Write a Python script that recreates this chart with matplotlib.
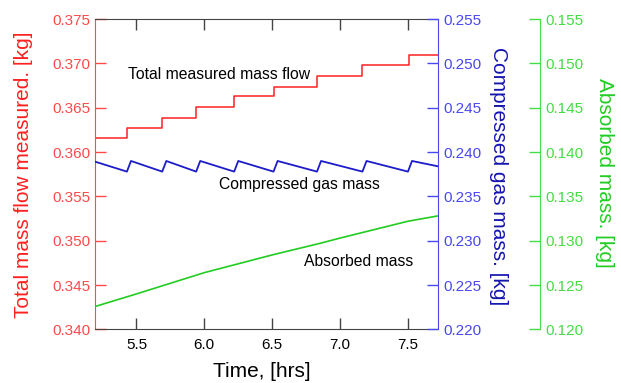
import matplotlib.pyplot as plt

plt.rcParams["font.family"] = ["Liberation Sans", "DejaVu Sans"]

# Total measured mass flow (step curve), red axis
flow_time = [5.2, 5.43, 5.69, 5.94, 6.22, 6.51, 6.83, 7.165, 7.51, 7.72]
flow_mass = [0.3616, 0.3627, 0.3639, 0.3651, 0.3663, 0.3674, 0.3686, 0.3698, 0.3710, 0.3710]

# Compressed gas mass (sawtooth), blue axis
gas_time = [5.2, 5.43, 5.46, 5.69, 5.72, 5.94, 5.97, 6.22, 6.25, 6.51, 6.54,
            6.83, 6.86, 7.165, 7.195, 7.50, 7.53, 7.72]
gas_mass = [0.2389, 0.2378, 0.2390, 0.2378, 0.2390, 0.2378, 0.2390, 0.2378, 0.2390,
            0.2378, 0.2390, 0.2378, 0.2390, 0.2378, 0.2390, 0.2378, 0.2390, 0.2384]

# Absorbed mass, green axis
abs_time = [5.2, 5.5, 6.0, 6.5, 6.85, 7.0, 7.5, 7.72]
abs_mass = [0.1226, 0.1240, 0.1264, 0.1284, 0.1297, 0.1303, 0.1322, 0.1328]

red_line, red_tick, red_lab = "#ff2020", "#ff4a4a", "#ff2020"
blue_line, blue_tick, blue_lab = "#1c1cc8", "#4848f0", "#1414b0"
green_line, green_tick, green_lab = "#22cc22", "#44dd44", "#22cc22"

fig = plt.figure(figsize=(6.21, 3.83), dpi=100)
ax = fig.add_axes([0.153, 0.140, 0.552, 0.810])
ax2 = ax.twinx()
ax3 = ax.twinx()
ax3.spines["right"].set_position(("axes", 1.297))

ax.plot(flow_time, flow_mass, color=red_line, lw=1.1, drawstyle="steps-post")
ax2.plot(gas_time, gas_mass, color=blue_line, lw=1.3)
ax3.plot(abs_time, abs_mass, color=green_line, lw=1.2)

ax.set_xlim(5.195, 7.72)
ax.set_ylim(0.340, 0.375)
ax2.set_ylim(0.220, 0.255)
ax3.set_ylim(0.120, 0.155)
ax.set_xticks([5.5, 6.0, 6.5, 7.0, 7.5])
ax.set_yticks([0.340, 0.345, 0.350, 0.355, 0.360, 0.365, 0.370, 0.375])
ax2.set_yticks([0.220, 0.225, 0.230, 0.235, 0.240, 0.245, 0.250, 0.255])
ax3.set_yticks([0.120, 0.125, 0.130, 0.135, 0.140, 0.145, 0.150, 0.155])
ax.xaxis.set_major_formatter("{x:.1f}")
ax.yaxis.set_major_formatter("{x:.3f}")
ax2.yaxis.set_major_formatter("{x:.3f}")
ax3.yaxis.set_major_formatter("{x:.3f}")

ax.tick_params(axis="x", direction="in", length=8, width=1, top=True,
               labelsize=11, pad=6, color="#444444")
ax.tick_params(axis="y", direction="in", length=8, width=1, colors=red_tick,
               labelsize=11, pad=3)
ax2.tick_params(axis="y", direction="in", length=8, width=1, colors=blue_tick,
                labelsize=11, pad=4)
ax3.tick_params(axis="y", direction="in", length=8, width=1, colors=green_tick,
                labelsize=11, pad=4)

for a in (ax, ax2, ax3):
    for s in a.spines.values():
        s.set_visible(False)
ax.spines["left"].set_visible(True)
ax.spines["left"].set_color(red_tick)
ax.spines["top"].set_visible(True)
ax.spines["top"].set_color("#444444")
ax.spines["bottom"].set_visible(True)
ax.spines["bottom"].set_color("#444444")
ax2.spines["right"].set_visible(True)
ax2.spines["right"].set_color(blue_tick)
ax3.spines["right"].set_visible(True)
ax3.spines["right"].set_color(green_tick)

ax.set_xlabel("Time, [hrs]", fontsize=15)
ax.xaxis.set_label_coords(0.487, -0.105)
ax.set_ylabel("Total mass flow measured. [kg]", fontsize=15, color=red_lab)
ax.yaxis.set_label_coords(-0.181, 0.5)
ax2.set_ylabel("Compressed gas mass. [kg]", fontsize=15, color=blue_lab, rotation=-90)
ax2.yaxis.set_label_coords(1.205, 0.495)
ax3.set_ylabel("Absorbed mass. [kg]", fontsize=15, color=green_lab, rotation=-90)
ax3.yaxis.set_label_coords(1.515, 0.505)

ax.text(6.11, 0.3687, "Total measured mass flow", fontsize=11.3, ha="center", va="center")
ax.text(6.70, 0.3564, "Compressed gas mass", fontsize=11.3, ha="center", va="center")
ax.text(7.138, 0.3477, "Absorbed mass", fontsize=11.3, ha="center", va="center")

fig.savefig("out.png", dpi=100)
